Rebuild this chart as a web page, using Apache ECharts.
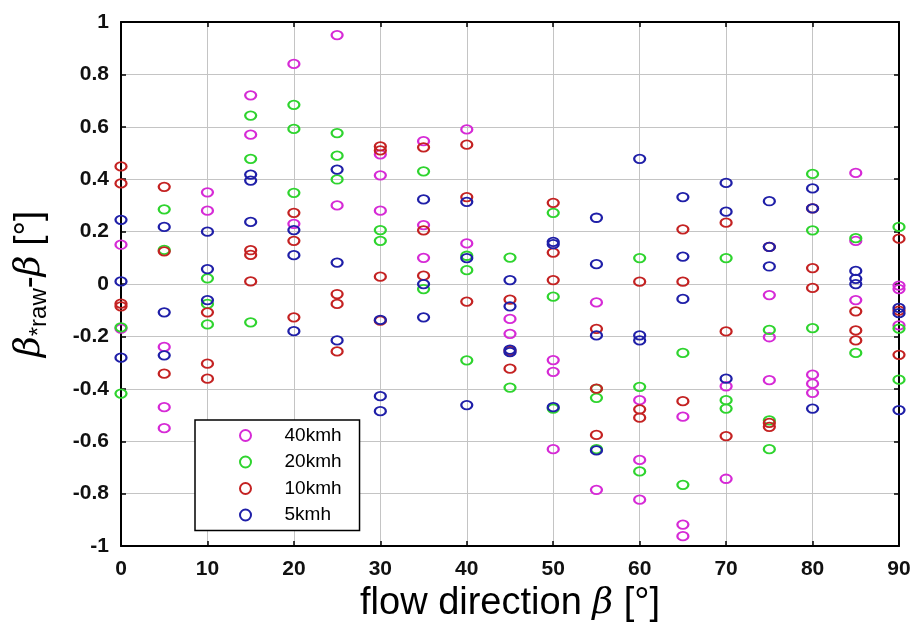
<!DOCTYPE html>
<html>
<head>
<meta charset="utf-8">
<script src="https://cdn.jsdelivr.net/npm/echarts@6/dist/echarts.min.js"></script>
<style>
html,body{margin:0;padding:0;background:#fff;}
#chart{width:916px;height:628px;}
</style>
</head>
<body>
<div id="chart"></div>
<script>
// flow direction angles (x categories)
const angles = [0, 5, 10, 15, 20, 25, 30, 35, 40, 45, 50, 55, 60, 65, 70, 75, 80, 85, 90];

// beta_raw - beta values per angle, one list per speed
const v40 = [
  [0.15, -0.17], [-0.24, -0.47, -0.55], [0.35, 0.28], [0.72, 0.57], [0.84, 0.23],
  [0.95, 0.30], [0.495, 0.415, 0.28], [0.545, 0.225, 0.10], [0.59, 0.155], [-0.133, -0.19],
  [-0.29, -0.335, -0.63], [-0.07, -0.785], [-0.443, -0.671, -0.823], [-0.506, -0.918, -0.962],
  [-0.39, -0.743], [-0.042, -0.203, -0.367], [-0.346, -0.38, -0.415], [0.424, 0.165, -0.061],
  [-0.006, -0.019, -0.158]
];
const v20 = [
  [-0.165, -0.418], [0.285, 0.13], [0.022, -0.076, -0.154], [0.643, 0.478, -0.146], [0.684, 0.592, 0.348],
  [0.576, 0.49, 0.399], [0.206, 0.165], [0.43, -0.019], [0.108, 0.053, -0.291], [0.101, -0.395],
  [0.272, -0.048, -0.475], [-0.40, -0.434, -0.63], [0.099, -0.392, -0.715], [-0.263, -0.766],
  [0.099, -0.443, -0.475], [-0.175, -0.52, -0.63], [0.42, 0.205, -0.168], [0.175, -0.263],
  [0.218, -0.17, -0.365]
];
const v10 = [
  [0.449, 0.384, -0.075, -0.085], [0.371, 0.125, -0.342], [-0.108, -0.304, -0.361], [0.129, 0.111, 0.01],
  [0.272, 0.165, -0.127], [-0.038, -0.076, -0.257], [0.525, 0.51, 0.028, -0.14], [0.522, 0.205, 0.032],
  [0.532, 0.332, -0.067], [-0.059, -0.255, -0.323], [0.31, 0.12, 0.015], [-0.171, -0.399, -0.576],
  [0.009, -0.478, -0.51], [0.209, 0.009, -0.447], [0.234, -0.181, -0.58], [0.142, -0.53, -0.545],
  [0.289, 0.061, -0.015], [-0.104, -0.177, -0.215], [0.173, -0.101, -0.27]
];
const v5 = [
  [0.245, 0.01, -0.281], [0.218, -0.108, -0.272], [0.2, 0.057, -0.061], [0.418, 0.395, 0.237],
  [0.206, 0.11, -0.18], [0.437, 0.082, -0.215], [-0.137, -0.428, -0.485], [0.323, 0.0, -0.127],
  [0.314, 0.099, -0.462], [0.015, -0.085, -0.25, -0.26], [0.161, 0.152, -0.47],
  [0.253, 0.076, -0.196, -0.635], [0.478, -0.196, -0.215], [0.332, 0.105, -0.057],
  [0.386, 0.276, -0.361], [0.316, 0.142, 0.067], [0.365, 0.289, -0.475], [0.05, 0.02, 0.0],
  [-0.091, -0.111, -0.481]
];

const seriesNames = ['40kmh', '20kmh', '10kmh', '5kmh'];
const seriesValues = [v40, v20, v10, v5];
const seriesColors = ['#d62ad6', '#2ed42e', '#c42222', '#1f1fa8'];

const xTicks = [0, 10, 20, 30, 40, 50, 60, 70, 80, 90];
const yTicks = [-1, -0.8, -0.6, -0.4, -0.2, 0, 0.2, 0.4, 0.6, 0.8, 1];

function toPoints(vals) {
  const pts = [];
  vals.forEach((list, i) => list.forEach(v => pts.push([angles[i], v])));
  return pts;
}

const chart = echarts.init(document.getElementById('chart'), null, {renderer: 'canvas'});
const FONT = 'Liberation Sans, Arial, sans-serif';
const lineStyle = {color: '#000', width: 2};
const tickStyle = {show: true, inside: true, length: 5, lineStyle: {color: '#000', width: 1.5}};

const option = {
  backgroundColor: '#fff',
  animation: false,
  grid: {left: 121, right: 17, top: 22, bottom: 80, containLabel: false},
  legend: {
    orient: 'vertical',
    left: 195, top: 420,
    backgroundColor: '#fff',
    borderColor: '#000', borderWidth: 1.5,
    padding: [6, 18, 6, 44],
    itemWidth: 68, itemHeight: 11, itemGap: 7.5,
    textStyle: {fontFamily: FONT, fontSize: 19, color: '#000'},
    data: seriesNames
  },
  xAxis: [{
    type: 'value', min: 0, max: 90, interval: 10,
    name: 'flow direction {g|β} [°]',
    nameLocation: 'middle', nameGap: 36,
    nameTextStyle: {fontFamily: FONT, fontSize: 38, color: '#000',
      rich: {g: {fontFamily: 'DejaVu Serif', fontStyle: 'italic', fontSize: 36, color: '#000'}}},
    axisLine: {show: true, onZero: false, lineStyle: lineStyle},
    axisTick: tickStyle,
    axisLabel: {fontFamily: FONT, fontSize: 21, fontWeight: 'bold', color: '#111', margin: 13},
    splitLine: {show: true, lineStyle: {color: '#c4c4c4', width: 1}}
  }, {
    type: 'value', min: 0, max: 90, interval: 10, position: 'top',
    axisLine: {show: true, onZero: false, lineStyle: lineStyle},
    axisTick: tickStyle,
    axisLabel: {show: false}, splitLine: {show: false}
  }],
  yAxis: [{
    type: 'value', min: -1, max: 1, interval: 0.2,
    name: '{g|β}{s|*raw}{t|-}{g|β}{t| [°]}',
    nameLocation: 'middle', nameRotate: 90, nameGap: 70,
    nameTextStyle: {fontFamily: FONT, fontSize: 36, color: '#000',
      rich: {
        g: {fontFamily: 'DejaVu Serif', fontStyle: 'italic', fontSize: 36, color: '#000'},
        s: {fontFamily: FONT, fontSize: 24, color: '#000', padding: [18, 0, 0, 0]},
        t: {fontFamily: FONT, fontSize: 36, color: '#000'}
      }},
    axisLine: {show: true, onZero: false, lineStyle: lineStyle},
    axisTick: tickStyle,
    axisLabel: {fontFamily: FONT, fontSize: 21, fontWeight: 'bold', color: '#111', margin: 12,
      formatter: v => String(Math.round(v * 10) / 10)},
    splitLine: {show: true, lineStyle: {color: '#c4c4c4', width: 1}}
  }, {
    type: 'value', min: -1, max: 1, interval: 0.2, position: 'right',
    axisLine: {show: true, onZero: false, lineStyle: lineStyle},
    axisTick: tickStyle,
    axisLabel: {show: false}, splitLine: {show: false}
  }],
  series: seriesNames.map((name, i) => ({
    name: name,
    type: 'scatter',
    xAxisIndex: 0, yAxisIndex: 0,
    symbol: 'circle',
    symbolSize: [11, 8.5],
    itemStyle: {color: 'rgba(255,255,255,0)', borderColor: seriesColors[i], borderWidth: 2, opacity: 1},
    emphasis: {disabled: true},
    data: toPoints(seriesValues[i]),
    z: 2 + i
  }))
};
chart.setOption(option);
</script>
</body>
</html>
